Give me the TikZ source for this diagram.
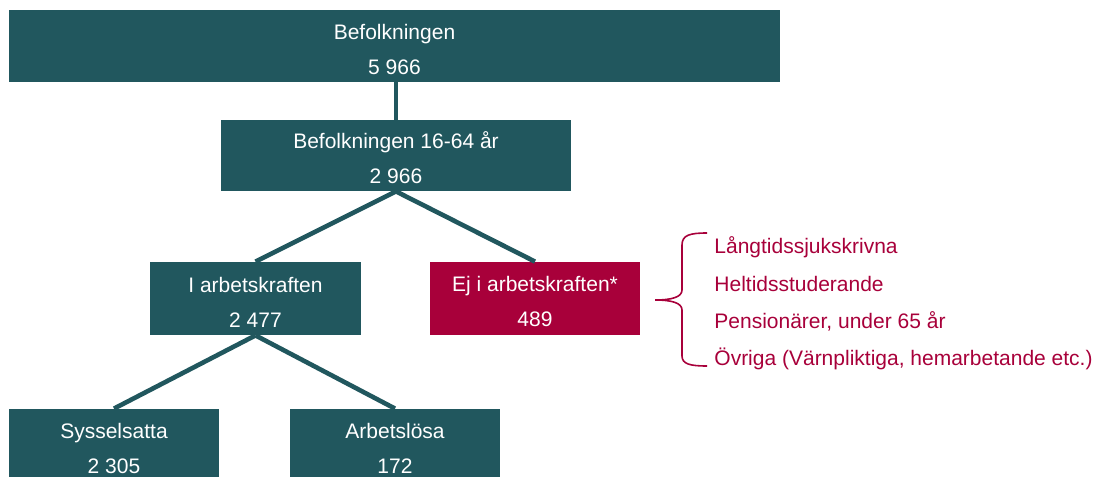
\documentclass[tikz,border=0pt]{standalone}
\usepackage{fontspec}
\setmainfont{Liberation Sans}
\definecolor{boxteal}{RGB}{33,87,94}
\definecolor{boxred}{RGB}{168,0,58}
\newcommand{\boxlines}[2]{\rule{0pt}{11pt}#1\\#2}
\begin{document}
\begin{tikzpicture}[x=0.5pt, y=-0.5pt,
    box/.style={fill=boxteal, text=white, align=center, inner sep=0pt,
        minimum height=36pt, font=\fontsize{10.5}{17.5}\selectfont},
    link/.style={boxteal, line width=2.3pt}]
    % Frame
    \useasboundingbox (0,0) rectangle (1095,476);
    % Boxes
    \node [box, minimum width=385.5pt] (pop) at (394.5,46) {\boxlines{Befolkningen}{5 966}};
    \node [box, minimum width=175pt, minimum height=35.5pt] (age) at (396,155.5) {\boxlines{Befolkningen 16-64 år}{2 966}};
    \node [box, minimum width=105.5pt, minimum height=36.5pt] (labour) at (255.5,298.5) {\boxlines{I arbetskraften}{2 477}};
    \node [box, fill=boxred, minimum width=105pt, minimum height=36.5pt] (outside) at (535,298.5) {\boxlines{Ej i arbetskraften*}{489}};
    \node [box, minimum width=105pt] (employed) at (114,445) {\boxlines{Sysselsatta}{2 305}};
    \node [box, minimum width=105pt] (unemployed) at (395,445) {\boxlines{Arbetslösa}{172}};
    % Links
    \draw [link] (age.north |- pop.south) -- (age.north);
    \draw [link] (age.south) -- (labour.north);
    \draw [link] (age.south) -- (outside.north);
    \draw [link] (labour.south) -- (employed.north);
    \draw [link] (labour.south) -- (unemployed.north);
    % Reasons
    \node [anchor=west, align=left, text=boxred, inner sep=0pt,
        font=\fontsize{10.5}{18.65}\selectfont] (reasons) at (714,303.5)
        {Långtidssjukskrivna\\Heltidsstuderande\\Pensionärer, under 65 år\\Övriga (Värnpliktiga, hemarbetande etc.)};
    \draw [boxred, line width=0.8pt] (707,233) .. controls (690,233) and (682,235) .. (682,245)
        -- (682,290) .. controls (682,297) and (672,300) .. (655,300)
        .. controls (672,300) and (682,303) .. (682,310)
        -- (682,356) .. controls (682,364) and (690,366) .. (707,366);
\end{tikzpicture}
\end{document}
